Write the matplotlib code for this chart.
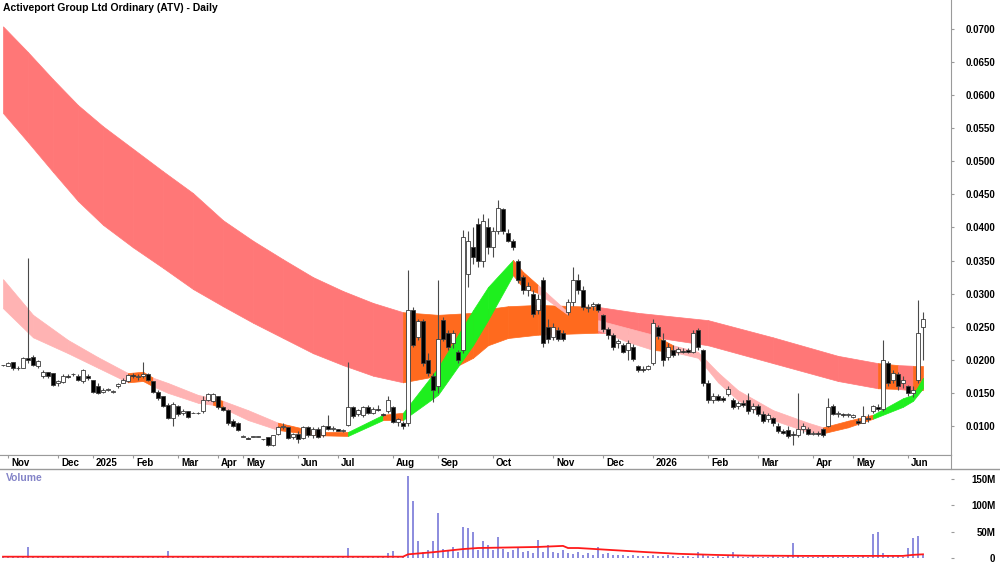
import numpy as np
import matplotlib
matplotlib.use("Agg")
from matplotlib import pyplot as plt
from matplotlib import transforms
from matplotlib.lines import Line2D

plt.rcParams["font.family"] = ["Liberation Sans", "DejaVu Sans"]

title = "Activeport Group Ltd Ordinary (ATV) - Daily"

# Daily bars, prices in units of 0.0001
opens = [192, 190, 197, 187, 188, 203, 205, 190, 175, 182,
         180, 165, 167, 176, 178, 176, 168, 176, 170, 160,
         152, 155, 152, 160, 165, 168, 177, 174, 176, 178,
         168, 152, 145, 132, 112, 130, 120, 122, 120, 120,
         122, 140, 138, 145, 128, 124, 108, 105, 84, 82,
         84, 84, 80, 83, 72, 88, 98, 98, 84, 88,
         82, 98, 86, 96, 86, 100, 96, 95, 93, 102,
         128, 118, 116, 128, 120, 126, 118, 122, 128, 106,
         104, 104, 275, 235, 258, 200, 175, 160, 260, 240,
         225, 212, 215, 330, 370, 405, 350, 400, 370, 395,
         428, 392, 380, 350, 325, 305, 300, 275, 320, 250,
         235, 245, 240, 272, 288, 320, 305, 278, 282, 284,
         268, 246, 238, 225, 222, 215, 220, 190, 186, 186,
         195, 250, 230, 205, 215, 212, 214, 215, 212, 245,
         215, 165, 140, 145, 142, 148, 140, 130, 135, 140,
         125, 130, 118, 110, 112, 100, 92, 94, 88, 86,
         95, 96, 88, 90, 95, 100, 130, 118, 118, 116,
         114, 108, 105, 112, 122, 128, 125, 195, 170, 178,
         165, 160, 150, 170, 250]
highs = [192, 197, 197, 190, 205, 354, 207, 200, 185, 182,
         180, 170, 178, 178, 180, 178, 186, 178, 170, 165,
         158, 157, 155, 165, 172, 178, 180, 178, 197, 180,
         168, 155, 146, 135, 136, 132, 125, 123, 121, 121,
         146, 150, 150, 146, 130, 125, 110, 106, 86, 83,
         85, 85, 81, 84, 87, 100, 104, 99, 90, 92,
         100, 100, 98, 98, 102, 117, 100, 96, 95, 197,
         130, 126, 130, 132, 128, 132, 120, 145, 130, 112,
         108, 336, 280, 262, 262, 210, 180, 321, 265, 245,
         245, 215, 396, 395, 400, 415, 420, 415, 400, 441,
         430, 398, 383, 352, 328, 318, 305, 300, 325, 262,
         255, 250, 245, 292, 340, 330, 312, 285, 288, 286,
         270, 250, 240, 232, 226, 230, 224, 192, 190, 192,
         262, 252, 240, 225, 222, 220, 218, 218, 245, 248,
         216, 170, 150, 148, 145, 160, 142, 138, 140, 150,
         135, 134, 122, 120, 114, 104, 96, 100, 92, 150,
         104, 98, 92, 92, 97, 142, 134, 122, 120, 120,
         118, 112, 130, 118, 132, 134, 230, 198, 185, 182,
         175, 162, 160, 290, 272]
lows = [190, 190, 185, 185, 188, 195, 190, 188, 172, 172,
        160, 160, 165, 172, 176, 168, 165, 170, 150, 148,
        150, 153, 150, 158, 165, 166, 172, 170, 172, 168,
        150, 140, 128, 110, 100, 115, 116, 112, 119, 118,
        120, 138, 136, 125, 122, 102, 98, 92, 83, 80,
        84, 83, 79, 70, 70, 86, 96, 80, 80, 75,
        80, 84, 82, 82, 84, 94, 92, 92, 91, 100,
        112, 115, 114, 118, 118, 122, 115, 120, 104, 100,
        96, 100, 220, 230, 190, 175, 136, 150, 228, 215,
        218, 195, 210, 310, 345, 340, 340, 360, 355, 390,
        390, 378, 366, 316, 300, 296, 265, 270, 220, 225,
        230, 228, 228, 268, 282, 300, 275, 272, 275, 272,
        242, 232, 215, 218, 210, 200, 198, 182, 182, 185,
        192, 232, 190, 200, 205, 208, 210, 210, 210, 215,
        160, 135, 135, 138, 136, 145, 125, 125, 128, 118,
        120, 115, 105, 106, 100, 90, 88, 82, 72, 84,
        90, 86, 86, 85, 84, 98, 116, 114, 114, 114,
        112, 102, 104, 106, 120, 122, 122, 160, 165, 155,
        158, 145, 144, 165, 200]
closes = [192, 195, 187, 188, 203, 200, 192, 198, 182, 175,
          162, 168, 176, 174, 178, 170, 184, 172, 152, 150,
          155, 155, 152, 163, 170, 177, 175, 176, 178, 170,
          152, 143, 130, 112, 134, 118, 122, 114, 120, 119,
          140, 148, 148, 128, 124, 105, 100, 94, 84, 81,
          84, 84, 80, 72, 86, 98, 100, 82, 88, 80,
          98, 86, 96, 84, 100, 96, 97, 93, 94, 128,
          115, 124, 128, 120, 126, 124, 116, 140, 106, 110,
          100, 275, 222, 258, 195, 180, 154, 232, 232, 220,
          240, 200, 385, 380, 355, 350, 410, 370, 395, 430,
          395, 380, 370, 320, 305, 312, 270, 292, 225, 232,
          250, 232, 232, 288, 320, 305, 280, 280, 284, 276,
          246, 238, 220, 228, 212, 225, 202, 185, 184, 190,
          255, 236, 200, 220, 208, 216, 212, 212, 240, 220,
          165, 140, 145, 140, 140, 156, 128, 135, 132, 122,
          130, 118, 108, 116, 104, 92, 90, 85, 86, 95,
          100, 88, 90, 88, 86, 128, 118, 120, 116, 118,
          116, 104, 115, 110, 130, 126, 200, 165, 180, 160,
          170, 150, 155, 240, 262]

# volume, millions of shares
volume = [2, 1, 3, 1, 2, 21, 4, 2, 1, 2,
          1, 2, 1, 1, 2, 1, 1, 3, 1, 1,
          2, 1, 1, 2, 1, 1, 3, 1, 2, 1,
          1, 2, 1, 13, 2, 1, 2, 1, 1, 2,
          1, 2, 1, 1, 2, 1, 1, 1, 2, 1,
          1, 1, 2, 1, 1, 2, 1, 1, 3, 1,
          1, 2, 1, 1, 2, 1, 1, 2, 1, 19,
          2, 1, 3, 2, 1, 2, 1, 10, 14, 3,
          4, 155, 108, 33, 12, 15, 33, 85, 17, 15,
          20, 12, 58, 57, 50, 15, 33, 25, 15, 40,
          18, 12, 15, 20, 12, 14, 10, 35, 12, 25,
          12, 10, 15, 10, 8, 12, 6, 10, 5, 20,
          8, 10, 6, 5, 6, 4, 5, 4, 3, 3,
          5, 4, 3, 6, 3, 2, 4, 3, 2, 12,
          5, 3, 2, 4, 2, 3, 12, 3, 2, 2,
          3, 2, 2, 1, 3, 2, 2, 3, 29, 3,
          2, 2, 1, 2, 4, 2, 3, 2, 1, 2,
          2, 1, 3, 2, 46, 50, 10, 4, 3, 3,
          2, 19, 38, 42, 6]
vol_ma_bars = [0, 80, 81, 86, 92, 95, 107, 112, 113, 115, 122, 129, 135, 142, 149, 160, 180, 182, 184]
vol_ma = [2.5, 2.5, 7, 11, 17, 19, 21, 23, 19, 19, 15, 11, 8, 6, 4.5, 4, 4, 6, 7]

# long-term average band (upper / lower edge), state per segment
long_bars = [0, 5, 10, 15, 20, 26, 32, 38, 44, 50, 56, 62, 68, 74, 80,
             87, 94, 97, 101, 107, 119, 127, 141, 154, 167, 175, 179, 182, 184]
long_hi = [704, 665, 624, 585, 553, 519, 485, 452, 411, 380, 352, 325, 304, 286, 272,
           268, 271, 277, 281, 283, 280, 271, 260, 234, 206, 195, 192, 191, 191]
long_lo = [573, 529, 484, 440, 404, 370, 339, 307, 281, 256, 233, 210, 192, 176, 166,
           176, 203, 222, 233, 238, 241, 238, 222, 195, 168, 157, 156, 154, 154]
long_state = "bbbbbbbbbbbbbbmmmmmmbbbbbmbm"

# short-term average band
short_bars = [0, 6, 13, 19, 25, 28, 30, 33, 39, 42, 44, 49, 55, 63, 69, 76, 80, 87, 94, 97,
              102, 104, 107, 113, 119, 125, 130, 134, 139, 143, 147, 154, 161, 164, 169, 174, 180, 182, 184]
short_hi = [322, 268, 230, 204, 180, 182, 173, 165, 147, 142, 138, 124, 105, 91, 91, 117, 120, 188, 275, 310,
            351, 333, 313, 272, 260, 248, 238, 222, 212, 181, 154, 124, 105, 98, 108, 117, 142, 147, 173]
short_lo = [278, 234, 210, 188, 166, 168, 160, 150, 135, 132, 127, 109, 94, 86, 85, 109, 109, 147, 222, 260,
            328, 309, 301, 268, 245, 227, 215, 212, 203, 166, 139, 109, 91, 89, 98, 111, 129, 138, 157]
short_state = "bbbbmmbbbmbbmmgmggggmmbmbbmbbbbbbmmggg"

month_labels = ["Nov", "Dec", "2025", "Feb", "Mar", "Apr", "May", "Jun", "Jul", "Aug",
                "Sep", "Oct", "Nov", "Dec", "2026", "Feb", "Mar", "Apr", "May", "Jun"]
month_bars = [1, 11, 18, 26, 35, 43, 48, 59, 67, 78, 87, 98, 110, 120, 130, 141, 151, 162, 170, 181]

scale = 1e-4
ORANGE = "#FF6A1E"
GREEN = "#1EEF1E"
GRAY = "#9a9a9a"


def draw_band(ax, bars, hi, lo, states, bear_col, z):
    hi = np.array(hi) * scale
    lo = np.array(lo) * scale
    cols = {"b": bear_col, "m": ORANGE, "g": GREEN}
    for k, s in enumerate(states):
        c = cols[s]
        ax.fill_between(bars[k:k + 2], lo[k:k + 2], hi[k:k + 2], facecolor=c,
                        edgecolor=c, linewidth=0.5, zorder=z)


fig = plt.figure(figsize=(10, 5.62), dpi=100)
W = 0.951
ax = fig.add_axes([0, 1 - 455 / 562, W, 455 / 562])
ax_d = fig.add_axes([0, 1 - 469 / 562, W, 14 / 562])
ax_v = fig.add_axes([0, 0, W, 1 - 469 / 562])

x = np.arange(len(closes))
o = np.array(opens) * scale
h = np.array(highs) * scale
l = np.array(lows) * scale
c = np.array(closes) * scale

draw_band(ax, long_bars, long_hi, long_lo, long_state, "#FF7777", 1)
draw_band(ax, short_bars, short_hi, short_lo, short_state, "#FFB3B3", 2)

up = c >= o
ax.vlines(x, l, h, color="#4a4a4a", linewidth=0.8, zorder=3)
body = np.maximum(np.abs(c - o), 0.00002)
ax.bar(x, body, bottom=np.minimum(o, c), width=0.62,
       color=np.where(up, "white", "black"), edgecolor="#3a3a3a", linewidth=0.6, zorder=4)

ax.set_xlim(-0.6, 189.6)
ax.set_ylim(0.005617, 0.07438)
ax.yaxis.tick_right()
yt = np.arange(0.01, 0.0701, 0.005)
ax.set_yticks(yt)
ax.set_yticklabels([f"{v:.4f}" for v in yt])
ax.tick_params(axis="y", direction="out", length=2.5, color=GRAY, labelsize=7, pad=29.5)
for lab in ax.get_yticklabels():
    lab.set_ha("right")
    lab.set_fontweight("bold")
ax.set_xticks([])
for s in ["left", "top"]:
    ax.spines[s].set_visible(False)
ax.spines["right"].set_color(GRAY)
ax.spines["bottom"].set_color(GRAY)

# date strip
ax_d.set_xlim(-0.6, 189.6)
ax_d.set_ylim(0, 1)
ax_d.set_yticks([])
ax_d.xaxis.tick_top()
ax_d.set_xticks(month_bars)
ax_d.set_xticklabels([])
ax_d.tick_params(axis="x", direction="in", length=2.5, color=GRAY)
for s in ["left", "bottom"]:
    ax_d.spines[s].set_visible(False)
ax_d.spines["top"].set_color(GRAY)
ax_d.spines["right"].set_color(GRAY)
trans = transforms.blended_transform_factory(ax_d.transData, ax_d.transAxes)
for m, lab in zip(month_bars, month_labels):
    ax_d.text(m + 0.6, 0.42, lab, transform=trans, fontsize=7, fontweight="bold", va="center", ha="left")
fig.add_artist(Line2D([0, 1], [1 - 469 / 562, 1 - 469 / 562], transform=fig.transFigure, color=GRAY, linewidth=1))

# volume panel
ax_v.bar(x, volume, width=0.35, color="#8E8EDE", linewidth=0)
ax_v.plot(vol_ma_bars, vol_ma, color="#FF1A1A", linewidth=1.3)
ax_v.set_xlim(-0.6, 189.6)
ax_v.set_ylim(-7.6, 169.2)
ax_v.yaxis.tick_right()
ax_v.set_yticks([0, 50, 100, 150])
ax_v.set_yticklabels(["0", "50M", "100M", "150M"])
ax_v.tick_params(axis="y", direction="out", length=2.5, color=GRAY, labelsize=7, pad=29.5)
for lab in ax_v.get_yticklabels():
    lab.set_ha("right")
    lab.set_fontweight("bold")
ax_v.set_xticks([])
for s in ax_v.spines.values():
    s.set_visible(False)
ax_v.text(0.006, 0.9, "Volume", transform=ax_v.transAxes, color="#8484C8",
          fontsize=7.5, fontweight="bold", va="center")

fig.text(0.003, 1 - 8 / 562, title, fontsize=7.5, fontweight="bold", va="center", ha="left")

fig.savefig("out.png", dpi=100)
